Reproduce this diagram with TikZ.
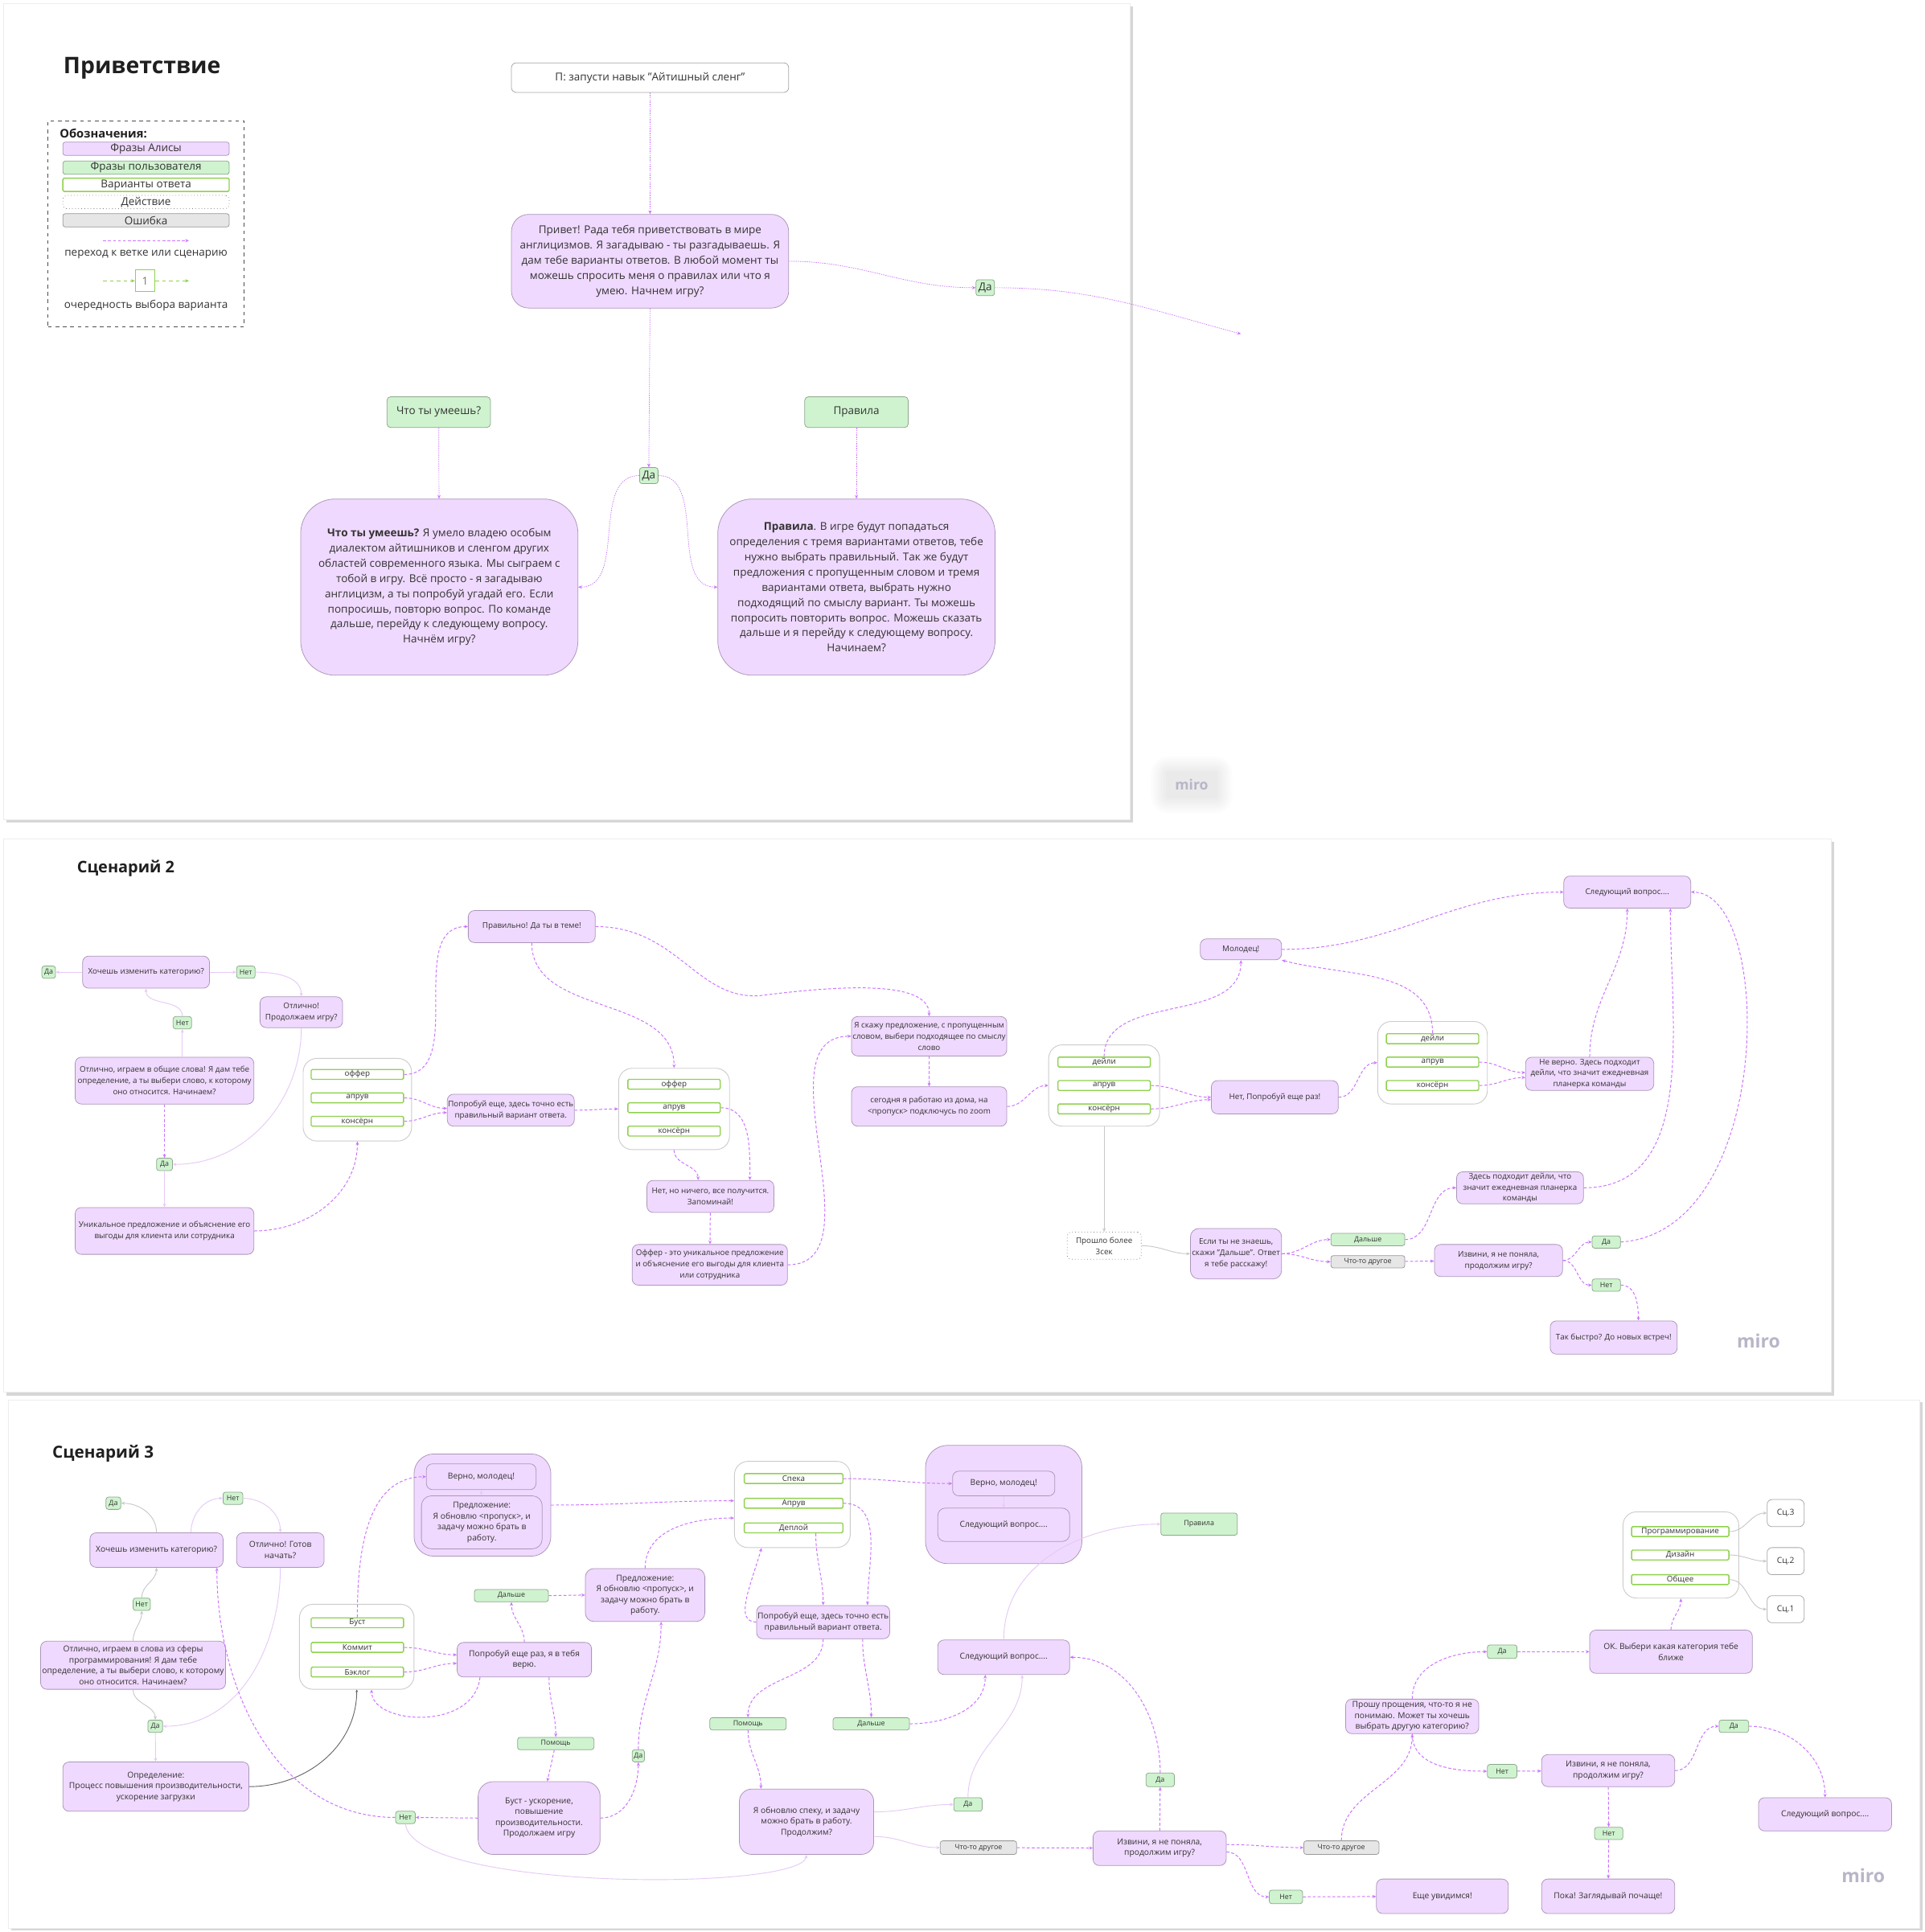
\documentclass[tikz,border=0pt]{standalone}
\usepackage{fontspec}
\setmainfont{Open Sans}
\usetikzlibrary{arrows.meta}

\definecolor{aliceF}{HTML}{F0D9FE}
\definecolor{aliceD}{HTML}{AB96B8}
\definecolor{userF}{HTML}{CFF3CF}
\definecolor{userD}{HTML}{8CA78C}
\definecolor{optD}{HTML}{8FD14F}
\definecolor{errF}{HTML}{E6E6E6}
\definecolor{errD}{HTML}{9A9A9A}
\definecolor{jumpC}{HTML}{CC73FF}
\definecolor{linkC}{HTML}{E6C9F6}
\definecolor{greyL}{HTML}{C8C8C8}
\definecolor{grpD}{HTML}{CCCCCC}
\definecolor{inkC}{HTML}{333333}
\definecolor{miroC}{HTML}{B9B5C8}

\newcommand\fsA{\fontsize{8.8}{12.3}\selectfont}
\newcommand\fsL{\fontsize{8.8}{10}\selectfont}
\newcommand\fsB{\fontsize{6.4}{9}\selectfont}
\newcommand\fsC{\fontsize{6.7}{8.8}\selectfont}
\newcommand\fsO{\fontsize{6.4}{7}\selectfont}
\newcommand\fsS{\fontsize{5.8}{7}\selectfont}

\tikzset{
  sz/.style 2 args={minimum width=#1pt, minimum height=#2pt},
  box/.style={align=center, inner sep=0.5pt, line width=0.5pt, text=inkC},
  alice/.style={box, fill=aliceF, draw=aliceD, rounded corners=5pt},
  user/.style={box, fill=userF, draw=userD, rounded corners=2pt, font=\fsS},
  act/.style={box, fill=white, draw=black!50, dotted, rounded corners=3pt},
  err/.style={box, fill=errF, draw=errD, rounded corners=2pt, font=\fsS},
  opt/.style={box, fill=white, draw=optD, line width=0.9pt, rounded corners=1pt,
    minimum width=75pt, minimum height=8pt, inner sep=0pt, font=\fsO},
  grp/.style={draw=grpD, fill=white, rounded corners=11pt, line width=0.6pt},
  plain/.style={box, fill=white, draw=black!35, rounded corners=4pt},
  panel/.style={fill=white, draw=black!7, line width=0.5pt},
  shade/.style={fill=black!16},
  tip/.style={-{Stealth[length=3pt,width=2.6pt]}},
  jp/.style={draw=jumpC, line width=0.65pt, dash pattern=on 2.4pt off 1.6pt, tip},
  thinjp/.style={draw=jumpC, line width=0.45pt, dash pattern=on 1pt off 0.8pt, tip},
  gjp/.style={draw=optD, line width=0.8pt, dash pattern=on 3pt off 2.5pt, tip},
  lk/.style={draw=linkC, line width=0.6pt, tip},
  gl/.style={draw=greyL, line width=0.6pt, tip},
  dk/.style={draw=black!60, line width=0.6pt, -{Stealth[length=2pt,width=2pt]}},
  ttl/.style={anchor=west, text=black!88},
  miro/.style={text=miroC, font=\bfseries\fontsize{15}{15}\selectfont}
}

\begin{document}
\begin{tikzpicture}[x=1pt, y=-1pt]
\useasboundingbox (0,0) rectangle (1562,1568);
\fill[white] (0,0) rectangle (1562,1568);

% ---------- boards ----------
\fill[shade] (5,5) rectangle (919.5,667.5);
\filldraw[panel] (3,3) rectangle (917,665);
\fill[shade] (5,683) rectangle (1488.5,1132.5);
\filldraw[panel] (3,681) rectangle (1486,1130);
\fill[shade] (9,1138) rectangle (1560,1567);
\filldraw[panel] (7,1136) rectangle (1558,1565);

% ================= Приветствие =================
\node[ttl, font=\bfseries\fontsize{18.5}{20}\selectfont] (t1) at (48,55) {Приветствие};

% legend
\node[draw=black!70, dashed, line width=0.6pt, sz={159}{167}] (lg) at (118.5,181.5) {};
\node[ttl, font=\bfseries\fontsize{9.6}{10}\selectfont] (lgT) at (45,108) {Обозначения:};
\node[alice, rounded corners=2pt, sz={135}{10.8}, font=\fsL] (lg1) at (118.5,120.7) {Фразы Алисы};
\node[user, sz={135}{10.8}, font=\fsL] (lg2) at (118.5,136.1) {Фразы пользователя};
\node[opt, sz={135}{10.8}, font=\fsL] (lg3) at (118.5,150) {Варианты ответа};
\node[act, sz={135}{10.8}, font=\fsL] (lg4) at (118.5,164) {Действие};
\node[err, sz={135}{10.8}, font=\fsL] (lg5) at (118.5,178.8) {Ошибка};
\coordinate (lgA1) at (83.7,195.3);
\coordinate (lgA2) at (153.3,195.3);
\draw[jp] (lgA1) -- (lgA2);
\node[font=\fsL, text=inkC] (lgT1) at (118.5,206.6) {переход к ветке или сценарию};
\node[draw=optD, line width=0.8pt, fill=white, sz={16}{17.6}, inner sep=0pt, font=\fsL, text=black!55] (lgN) at (117.8,227.9) {1};
\coordinate (lgB1) at (83.7,227.9);
\coordinate (lgB2) at (153.3,227.9);
\draw[gjp] (lgB1) -- (lgN);
\draw[gjp] (lgN) -- (lgB2);
\node[font=\fsL, text=inkC] (lgT2) at (118.5,248) {очередность выбора варианта};

% greeting flow
\node[plain, sz={225}{24}, font=\fsA] (start) at (527.5,63) {П: запусти навык "Айтишный сленг"};
\node[alice, sz={225}{76}, rounded corners=14pt, font=\fsA] (hello) at (527.5,212)
  {Привет! Рада тебя приветствовать в мире\\англицизмов. Я загадываю - ты разгадываешь. Я\\дам тебе варианты ответов. В любой момент ты\\можешь спросить меня о правилах или что я\\умею. Начнем игру?};
\node[user, sz={15}{13}, font=\fsL] (p1yes) at (799.5,233.5) {Да};
\coordinate (p1out) at (1007,271);
\node[user, sz={15}{13}, font=\fsL] (p1yes2) at (526.5,386) {Да};
\node[user, sz={84}{25}, rounded corners=3pt, font=\fsA] (p1skill) at (356,334.5) {Что ты умеешь?};
\node[user, sz={84}{25}, rounded corners=3pt, font=\fsA] (p1rulesq) at (695,334.5) {Правила};
\node[alice, sz={225}{143}, rounded corners=28pt, font=\fsA] (p1skillA) at (356.5,476.5)
  {\textbf{Что ты умеешь?} Я умело владею особым\\диалектом айтишников и сленгом других\\областей современного языка. Мы сыграем с\\тобой в игру. Всё просто - я загадываю\\англицизм, а ты попробуй угадай его. Если\\попросишь, повторю вопрос. По команде\\дальше, перейду к следующему вопросу.\\Начнём игру?};
\node[alice, sz={225}{143}, rounded corners=28pt, font=\fsA] (p1rulesA) at (695,476.5)
  {\textbf{Правила}. В игре будут попадаться\\определения с тремя вариантами ответов, тебе\\нужно выбрать правильный. Так же будут\\предложения с пропущенным словом и тремя\\вариантами ответа, выбрать нужно\\подходящий по смыслу вариант. Ты можешь\\попросить повторить вопрос. Можешь сказать\\дальше и я перейду к следующему вопросу.\\Начинаем?};

\draw[thinjp] (start) -- (hello);
\draw[thinjp] (hello.east) to[out=0,in=180] (p1yes.west);
\draw[thinjp] (p1yes.east) to[out=0,in=165] (p1out);
\draw[thinjp] (hello.south) -- (p1yes2.north);
\draw[thinjp] (p1yes2.west) to[out=180,in=0] (p1skillA.east);
\draw[thinjp] (p1yes2.east) to[out=0,in=180] (p1rulesA.west);
\draw[thinjp] (p1skill) -- (p1skillA);
\draw[thinjp] (p1rulesq) -- (p1rulesA);

% watermark with its soft grey halo
\foreach \d in {14,12,10,8,6,4,2}
  \fill[black, opacity=0.012, rounded corners=\d pt] (948-\d,628-\d) rectangle (986+\d,646+\d);
\node[miro, font=\bfseries\fontsize{11.5}{12}\selectfont] (miro1) at (967,637) {miro};

% ================= Сценарий 2 =================
\node[ttl, font=\bfseries\fontsize{13}{14}\selectfont] (t2) at (59,705) {Сценарий 2};

\node[user, sz={11}{10}] (p2da) at (39.5,789) {Да};
\node[alice, sz={103}{26}, font=\fsB] (p2q) at (118.5,789) {Хочешь изменить категорию?};
\node[user, sz={15}{10}] (p2net1) at (199.5,789) {Нет};
\node[alice, sz={67}{25}, font=\fsB] (p2cont) at (244.5,821.5) {Отлично!\\Продолжаем игру?};
\node[user, sz={15}{10}] (p2net2) at (148,830) {Нет};
\node[alice, sz={145}{38}, font=\fsB] (p2start) at (133.5,877) {Отлично, играем в общие слова! Я дам тебе\\определение, а ты выбери слово, к которому\\оно относится. Начинаем?};
\node[user, sz={13}{10}] (p2da2) at (133.5,945) {Да};
\node[alice, sz={145}{38}, font=\fsB] (p2def) at (133.5,999) {Уникальное предложение и объяснение его\\выгоды для клиента или сотрудника};

\node[grp, sz={88}{67}] (p2g1) at (290,892.5) {};
\node[opt] (p2g1a) at (290,872) {оффер};
\node[opt] (p2g1b) at (290,891) {апрув};
\node[opt] (p2g1c) at (290,910) {консёрн};

\node[alice, sz={103}{26}, font=\fsB] (p2try) at (414.5,901) {Попробуй еще, здесь точно есть\\правильный вариант ответа.};
\node[alice, sz={103}{26}, font=\fsB] (p2right) at (431.5,752) {Правильно! Да ты в теме!};

\node[grp, sz={90}{66}] (p2g2) at (547,900) {};
\node[opt] (p2g2a) at (547,880) {оффер};
\node[opt] (p2g2b) at (547,899) {апрув};
\node[opt] (p2g2c) at (547,918) {консёрн};

\node[alice, sz={103}{26}, font=\fsB] (p2nope) at (576.5,971) {Нет, но ничего, все получится.\\Запоминай!};
\node[alice, sz={126}{33}, font=\fsB] (p2offer) at (576,1026.5) {Оффер - это уникальное предложение\\и объяснение его выгоды для клиента\\или сотрудника};
\node[alice, sz={126}{32}, font=\fsB] (p2say) at (754,841) {Я скажу предложение, с пропущенным\\словом, выбери подходящее по смыслу\\слово};
\node[alice, sz={126}{32}, font=\fsB] (p2sent) at (754,898) {сегодня я работаю из дома, на\\\textless пропуск\textgreater{} подключусь по zoom};

\node[grp, sz={90}{66}] (p2g3) at (896,881) {};
\node[opt] (p2g3a) at (896,862) {дейли};
\node[opt] (p2g3b) at (896,881) {апрув};
\node[opt] (p2g3c) at (896,900) {консёрн};

\node[alice, sz={66}{17}, font=\fsB] (p2good) at (1007,770.5) {Молодец!};
\node[alice, sz={103}{27}, font=\fsB] (p2again) at (1034.5,890.5) {Нет, Попробуй еще раз!};

\node[grp, sz={89}{67}] (p2g4) at (1162.5,862.5) {};
\node[opt] (p2g4a) at (1162.5,843) {дейли};
\node[opt] (p2g4b) at (1162.5,862) {апрув};
\node[opt] (p2g4c) at (1162.5,881) {консёрн};

\node[alice, sz={104}{27}, font=\fsB] (p2wrong) at (1290,871.5) {Не верно. Здесь подходит\\дейли, что значит ежедневная\\планерка команды};
\node[alice, sz={103}{26}, font=\fsB] (p2next) at (1320.5,724) {Следующий вопрос....};
\node[act, sz={60}{22}, font=\fsB] (p2wait) at (896,1011) {Прошло более\\3сек};
\node[alice, sz={74}{41}, rounded corners=7pt, font=\fsB] (p2dunno) at (1003,1017.5) {Если ты не знаешь,\\скажи "Дальше". Ответ\\я тебе расскажу!};
\node[user, sz={60}{10}] (p2further) at (1110,1006) {Дальше};
\node[err, sz={60}{10}] (p2other) at (1110,1024) {Что-то другое};
\node[alice, sz={103}{26}, font=\fsB] (p2here) at (1233.5,964) {Здесь подходит дейли, что\\значит ежедневная планерка\\команды};
\node[alice, sz={104}{26}, font=\fsB] (p2sorry) at (1216,1023) {Извини, я не поняла,\\продолжим игру?};
\node[user, sz={23}{10}] (p2yes) at (1303.5,1008) {Да};
\node[user, sz={23}{10}] (p2no) at (1303.5,1043) {Нет};
\node[alice, sz={103}{27}, font=\fsB] (p2bye) at (1309.5,1085.5) {Так быстро? До новых встреч!};

\node[miro] (miro2) at (1427,1088) {miro};

% connectors
\draw[lk] (p2q) -- (p2da);
\draw[lk] (p2q) -- (p2net1);
\draw[lk] (p2net1.east) to[out=0,in=90] (p2cont.north);
\draw[lk] (p2net2.south |- p2start.north) -- (p2net2.south);
\draw[lk] (p2net2.north) to[out=90,in=-90] (p2q.south);
\draw[jp] (p2start) -- (p2da2);
\draw[lk] (p2cont.south) to[out=-90,in=0] (p2da2.east);
\draw[lk] (p2da2) -- (p2def);
\draw[jp] (p2def.east) to[out=0,in=-90] (p2g1.south);
\draw[jp] (p2g1a.east) to[out=0,in=180] (p2right.west);
\draw[jp] (p2g1b.east) to[out=0,in=180] ([yshift=1.5]p2try.west);
\draw[jp] (p2g1c.east) to[out=0,in=180] ([yshift=-2]p2try.west);
\draw[jp] (p2try.east) to[out=0,in=180] (p2g2.west);
\draw[jp] (p2right.south) to[out=-90,in=90] (p2g2.north);
\draw[jp] (p2right.east) .. controls (550,752) and (565,812) .. (617,808)
  .. controls (680,800) and (754,795) .. (p2say.north);
\draw[jp] (p2g2.south) to[out=-90,in=90] ([xshift=-10]p2nope.north);
\draw[jp] (p2g2b.east) to[out=0,in=90] ([xshift=32]p2nope.north);
\draw[jp] (p2nope) -- (p2offer);
\draw[jp] (p2offer.east) to[out=0,in=180] (p2say.west);
\draw[jp] (p2say) -- (p2sent);
\draw[jp] (p2sent.east) to[out=0,in=180] (p2g3.west);
\draw[jp] (p2g3a.north) to[out=90,in=-90] (p2good.south);
\draw[jp] (p2g3b.east) to[out=0,in=180] (p2again.west);
\draw[jp] (p2g3c.east) to[out=0,in=180] ([yshift=-2]p2again.west);
\draw[jp] (p2again.east) to[out=0,in=180] (p2g4.west);
\draw[jp] (p2g4a.north) to[out=90,in=-15] (p2good.south east);
\draw[jp] (p2good.east) to[out=0,in=180] (p2next.west);
\draw[jp] (p2g4b.east) to[out=0,in=180] ([yshift=1]p2wrong.west);
\draw[jp] (p2g4c.east) to[out=0,in=180] ([yshift=-3]p2wrong.west);
\draw[jp] (p2wrong.north) to[out=90,in=-90] (p2next.south);
\draw[gl] (p2g3.south) -- (p2wait.north);
\draw[gl] (p2wait.east) to[out=0,in=180] (p2dunno.west);
\draw[jp] (p2dunno.east) to[out=0,in=180] (p2further.west);
\draw[jp] (p2dunno.east) to[out=0,in=180] (p2other.west);
\draw[jp] (p2further.east) to[out=0,in=180] (p2here.west);
\draw[jp] (p2here.east) to[out=0,in=-90] ([xshift=35]p2next.south);
\draw[jp] (p2other) -- (p2sorry);
\draw[jp] (p2sorry.east) to[out=0,in=180] (p2yes.west);
\draw[jp] (p2sorry.east) to[out=0,in=180] (p2no.west);
\draw[jp] (p2yes.east) .. controls (1440,1000) and (1440,724) .. (p2next.east);
\draw[jp] (p2no.east) to[out=0,in=90] ([xshift=20]p2bye.north);

% ================= Сценарий 3 =================
\node[ttl, font=\bfseries\fontsize{13.5}{14}\selectfont] (t3) at (39,1180) {Сценарий 3};

\node[user, sz={12}{10}] (p3da) at (92,1220) {Да};
\node[user, sz={16}{10}] (p3net1) at (189,1216) {Нет};
\node[alice, sz={108}{28}, font=\fsC] (p3q) at (127,1258) {Хочешь изменить категорию?};
\node[alice, sz={71}{28}, font=\fsC] (p3cont) at (227.5,1258) {Отлично! Готов\\начать?};
\node[user, sz={14}{10}] (p3net2) at (115,1302) {Нет};
\node[alice, sz={150}{39}, font=\fsC] (p3start) at (108,1351.5) {Отлично, играем в слова из сферы\\программирования! Я дам тебе\\определение, а ты выбери слово, к которому\\оно относится. Начинаем?};
\node[user, sz={12}{10}] (p3da2) at (126,1401) {Да};
\node[alice, sz={151}{40}, font=\fsC] (p3def) at (126.5,1450) {Определение:\\Процесс повышения производительности,\\ускорение загрузки};

\node[grp, sz={93}{69}] (p3g1) at (289.5,1336.5) {};
\node[opt] (p3g1a) at (290,1317) {Буст};
\node[opt] (p3g1b) at (290,1337) {Коммит};
\node[opt] (p3g1c) at (290,1357) {Бэклог};

\node[alice, sz={111}{83}, rounded corners=16pt] (p3c1) at (391.5,1221.5) {};
\node[alice, sz={89}{21}, font=\fsC] (p3c1a) at (390.5,1198.5) {Верно, молодец!};
\node[alice, sz={98}{43}, rounded corners=8pt, font=\fsC] (p3c1b) at (391,1235.5) {Предложение:\\Я обновлю \textless пропуск\textgreater, и\\задачу можно брать в\\работу.};

\node[alice, sz={109}{28}, font=\fsC] (p3try) at (425.5,1347) {Попробуй еще раз, я в тебя\\верю.};
\node[user, sz={60}{10}] (p3far) at (415,1295) {Дальше};
\node[user, sz={62}{10}] (p3help) at (451,1415) {Помощь};
\node[alice, sz={97}{43}, rounded corners=7pt, font=\fsC] (p3sent) at (523.5,1294.5) {Предложение:\\Я обновлю \textless пропуск\textgreater, и\\задачу можно брать в\\работу.};
\node[user, sz={10}{10}] (p3da3) at (518,1425) {Да};
\node[user, sz={16}{10}] (p3net3) at (329,1475) {Нет};
\node[alice, sz={99}{59}, rounded corners=12pt, font=\fsC] (p3boost) at (437.5,1475.5) {Буст - ускорение,\\повышение\\производительности.\\Продолжаем игру};

\node[grp, sz={94}{70}] (p3g2) at (643,1221) {};
\node[opt, minimum width=80pt] (p3g2a) at (644,1200) {Спека};
\node[opt, minimum width=80pt] (p3g2b) at (644,1220) {Апрув};
\node[opt, minimum width=80pt] (p3g2c) at (644,1240) {Деплой};

\node[alice, sz={127}{96}, rounded corners=18pt] (p3c2) at (814.5,1221) {};
\node[alice, sz={83}{20}, font=\fsC] (p3c2a) at (814.5,1204) {Верно, молодец!};
\node[alice, sz={107}{27}, rounded corners=6pt, font=\fsC] (p3c2b) at (814.5,1237.5) {Следующий вопрос....};

\node[alice, sz={108}{27}, font=\fsC] (p3try2) at (668,1316.5) {Попробуй еще, здесь точно есть\\правильный вариант ответа.};
\node[user, sz={62}{10}] (p3help2) at (607,1399) {Помощь};
\node[user, sz={62}{10}] (p3far2) at (707,1399) {Дальше};
\node[alice, sz={107}{28}, font=\fsC] (p3next) at (814.5,1345) {Следующий вопрос....};
\node[user, sz={62}{18}] (p3rules) at (973,1237) {Правила};
\node[alice, sz={109}{53}, rounded corners=10pt, font=\fsC] (p3upd) at (654.5,1478.5) {Я обновлю спеку, и задачу\\можно брать в работу.\\Продолжим?};
\node[user, sz={23}{11}] (p3da4) at (785.5,1464.5) {Да};
\node[err, sz={62}{11}] (p3other) at (794,1499.5) {Что-то другое};
\node[alice, sz={108}{28}, font=\fsC] (p3sorry) at (941,1500) {Извини, я не поняла,\\продолжим игру?};
\node[user, sz={23}{11}] (p3da5) at (941.5,1444.5) {Да};
\node[user, sz={27}{11}] (p3net4) at (1043.5,1539.5) {Нет};
\node[err, sz={61}{11}] (p3other2) at (1088.5,1499.5) {Что-то другое};
\node[alice, sz={107}{28}, font=\fsC] (p3see) at (1170.5,1539) {Еще увидимся!};
\node[alice, sz={108}{28}, font=\fsC] (p3pardon) at (1146,1393) {Прошу прощения, что-то я не\\понимаю. Может ты хочешь\\выбрать другую категорию?};
\node[user, sz={24}{11}] (p3da6) at (1219,1340.5) {Да};
\node[alice, sz={132}{35}, font=\fsC] (p3ok) at (1356,1340.5) {ОК. Выбери какая категория тебе\\ближе};

\node[grp, sz={94}{70}] (p3g3) at (1364,1262) {};
\node[opt, minimum width=79pt] (p3g3a) at (1363.5,1243) {Программирование};
\node[opt, minimum width=79pt] (p3g3b) at (1363.5,1262) {Дизайн};
\node[opt, minimum width=79pt] (p3g3c) at (1363.5,1282) {Общее};
\node[plain, sz={30}{22}, font=\fsC] (p3s3) at (1449,1228) {Сц.3};
\node[plain, sz={30}{22}, font=\fsC] (p3s2) at (1449,1267) {Сц.2};
\node[plain, sz={30}{22}, font=\fsC] (p3s1) at (1449,1306) {Сц.1};

\node[user, sz={24}{11}] (p3net5) at (1219,1437.5) {Нет};
\node[alice, sz={108}{26}, font=\fsC] (p3sorry2) at (1305,1437) {Извини, я не поняла,\\продолжим игру?};
\node[user, sz={24}{10}] (p3da7) at (1407,1401) {Да};
\node[alice, sz={108}{27}, font=\fsC] (p3next2) at (1481,1472.5) {Следующий вопрос....};
\node[user, sz={23}{10}] (p3net6) at (1305.5,1488) {Нет};
\node[alice, sz={108}{28}, font=\fsC] (p3bye) at (1305,1539) {Пока! Заглядывай почаще!};

\node[miro] (miro3) at (1512,1522) {miro};

% connectors
\draw[gl] (p3q.north) to[out=90,in=0] (p3da.east);
\draw[lk] ([xshift=28]p3q.north) to[out=90,in=180] (p3net1.west);
\draw[lk] (p3net1.east) to[out=0,in=90] (p3cont.north);
\draw[gl] (p3start.north) to[out=90,in=-90] (p3net2.south);
\draw[gl] (p3net2.north) to[out=90,in=-90] (p3q.south);
\draw[gl] (p3start.south) to[out=-90,in=90] (p3da2.north);
\draw[lk] (p3cont.south) to[out=-90,in=0] (p3da2.east);
\draw[lk] (p3da2) -- (p3def);
\draw[dk] (p3def.east) to[out=0,in=-90] (p3g1.south);
\draw[jp] (p3g1a.north) to[out=90,in=180] (p3c1a.west);
\draw[jp] (p3g1b.east) to[out=0,in=180] ([yshift=4]p3try.west);
\draw[jp] (p3g1c.east) to[out=0,in=180] ([yshift=-3]p3try.west);
\draw[jp] ([xshift=-36]p3try.south) .. controls (385,1405) and (302,1400) .. ([xshift=12]p3g1.south);
\draw[jp] (p3try.north) to[out=90,in=-90] (p3far.south);
\draw[jp] (p3far.east) -- (p3sent.west);
\draw[jp] ([xshift=20]p3try.south) to[out=-90,in=90] (p3help.north);
\draw[jp] (p3help) -- (p3boost);
\draw[jp] (p3boost.east) to[out=0,in=-90] (p3da3.south);
\draw[jp] (p3da3.north) to[out=90,in=-90] ([xshift=13]p3sent.south);
\draw[jp] (p3boost.west) -- (p3net3.east);
\draw[jp] (p3net3.west) to[out=180,in=-90] ([xshift=49]p3q.south);
\draw[lk] (p3net3.south) .. controls (335,1535) and (650,1535) .. (p3upd.south);
\draw[lk] (p3c1a) -- (p3c1b);
\draw[jp] (p3c1.east) to[out=0,in=180] ([yshift=3]p3g2.west);
\draw[jp] (p3sent.north) to[out=90,in=180] ([yshift=-11]p3g2.west);
\draw[jp] (p3g2a.east) to[out=0,in=180] (p3c2a.west);
\draw[lk] (p3c2a) -- (p3c2b);
\draw[jp] (p3g2b.east) to[out=0,in=90] ([xshift=36]p3try2.north);
\draw[jp] ([xshift=18]p3g2c.south) to[out=-90,in=90] (p3try2.north);
\draw[jp] (p3try2.west) .. controls (596,1316) and (608,1290) .. ([xshift=-25]p3g2.south);
\draw[jp] (p3try2.south) to[out=-90,in=90] (p3help2.north);
\draw[jp] ([xshift=32]p3try2.south) to[out=-90,in=90] (p3far2.north);
\draw[jp] (p3help2.south) to[out=-90,in=90] ([xshift=-37]p3upd.north);
\draw[jp] (p3far2.east) to[out=0,in=-90] ([xshift=-15]p3next.south);
\draw[lk] (p3next.north) to[out=90,in=180] (p3rules.west);
\draw[lk] ([yshift=8]p3upd.east) to[out=0,in=180] (p3da4.west);
\draw[lk] ([yshift=-12]p3upd.east) to[out=0,in=180] (p3other.west);
\draw[lk] (p3da4.north) to[out=90,in=-90] ([xshift=15]p3next.south);
\draw[jp] (p3other) -- (p3sorry);
\draw[jp] (p3sorry) -- (p3da5);
\draw[jp] (p3da5.north) to[out=90,in=0] (p3next.east);
\draw[jp] ([yshift=3]p3sorry.east) to[out=0,in=180] (p3other2.west);
\draw[jp] ([yshift=-3]p3sorry.east) to[out=0,in=180] (p3net4.west);
\draw[jp] (p3net4) -- (p3see);
\draw[jp] (p3other2.north) to[out=90,in=-90] (p3pardon.south);
\draw[jp] (p3pardon.north) to[out=90,in=180] (p3da6.west);
\draw[jp] (p3da6) -- (p3ok);
\draw[jp] (p3ok.north) to[out=90,in=-90] (p3g3.south);
\draw[jp] (p3pardon.south) to[out=-90,in=180] (p3net5.west);
\draw[jp] (p3net5) -- (p3sorry2);
\draw[jp] (p3sorry2.east) to[out=0,in=180] (p3da7.west);
\draw[jp] (p3da7.east) to[out=0,in=90] (p3next2.north);
\draw[jp] (p3sorry2) -- (p3net6);
\draw[jp] (p3net6) -- (p3bye);
\draw[gl] (p3g3a.east) to[out=0,in=180] (p3s3.west);
\draw[gl] (p3g3b.east) to[out=0,in=180] (p3s2.west);
\draw[gl] (p3g3c.east) to[out=0,in=180] (p3s1.west);

\end{tikzpicture}
\end{document}
